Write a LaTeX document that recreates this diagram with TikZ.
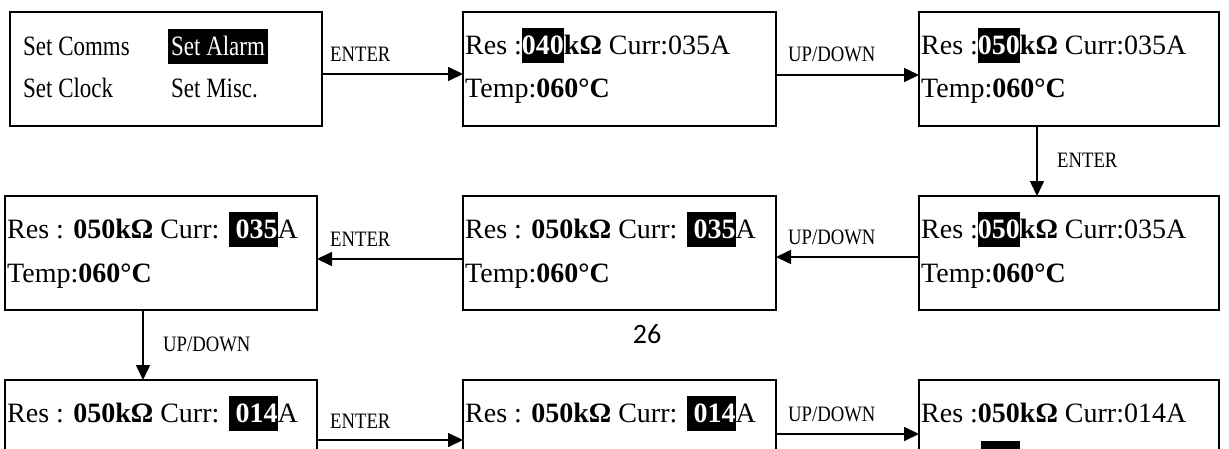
\documentclass[tikz,border=0pt]{standalone}
\usepackage{fontspec}
\setmainfont{Liberation Serif}
\newfontfamily\condfont[FakeStretch=0.82]{Liberation Serif}
\newfontfamily\lblfont[FakeStretch=0.85]{Liberation Serif}
\newfontfamily\pagefont{Carlito}
\usetikzlibrary{arrows.meta}
\newcommand\hl[1]{{\setlength{\fboxsep}{0pt}\colorbox{black}{\rule[-9pt]{0pt}{35pt}\textcolor{white}{#1}}}}
\newcommand\B[1]{\textbf{#1}}
\begin{document}
\begin{tikzpicture}[x=1pt,y=-1pt,
  screen/.style={draw, line width=1.6pt, anchor=north west, inner sep=0pt, outer sep=0pt,
    minimum width=#1, minimum height=114pt},
  txt/.style={anchor=base west, inner sep=0pt, font=\fontsize{28}{30}\selectfont},
  menu/.style={anchor=base west, inner sep=0pt, font=\condfont\fontsize{28}{30}\selectfont},
  lbl/.style={anchor=base west, inner sep=0pt, font=\lblfont\fontsize{22}{24}\selectfont},
  arr/.style={line width=1.6pt, -{Triangle[length=15pt,width=14pt]}}]
\useasboundingbox (0,0) rectangle (1229,448);
\clip (0,0) rectangle (1229,448);
\fill[white] (0,0) rectangle (1229,448);
% screens
\node[screen=312pt] (b1) at (10,12) {};
\node[screen=313pt] (b2) at (463,12) {};
\node[screen=300pt] (b3) at (919,12) {};
\node[screen=312pt] (b4) at (5,196) {};
\node[screen=313pt] (b5) at (463,196) {};
\node[screen=300pt] (b6) at (919,196) {};
\node[screen=312pt] (b7) at (5,380) {};
\node[screen=313pt] (b8) at (463,380) {};
\node[screen=300pt] (b9) at (919,380) {};
% texts of screen 1
\node[menu] (t1a) at (23,55) {Set Comms};
\node[menu] (t1b) at (168,55) {\hl{\hspace{3pt}Set Alarm\hspace{3pt}}};
\node[menu] (t1c) at (23,97) {Set Clock};
\node[menu] (t1d) at (171,97) {Set Misc.};
% screen 2, 3
\node[txt] (t2a) at (465,54) {Res :\hl{\B{040}}\B{kΩ} Curr:035A};
\node[txt] (t2b) at (465,97) {Temp:\B{060°C}};
\node[txt] (t3a) at (921,54) {Res :\hl{\B{050}}\B{kΩ} Curr:035A};
\node[txt] (t3b) at (921,97) {Temp:\B{060°C}};
% middle row
\node[txt] (t4a) at (7,238) {Res : \B{050kΩ} Curr: \hl{\ \B{035}}A};
\node[txt] (t4b) at (7,282) {Temp:\B{060°C}};
\node[txt] (t5a) at (465,238) {Res : \B{050kΩ} Curr: \hl{\ \B{035}}A};
\node[txt] (t5b) at (465,282) {Temp:\B{060°C}};
\node[txt] (t6a) at (921,238) {Res :\hl{\B{050}}\B{kΩ} Curr:035A};
\node[txt] (t6b) at (921,282) {Temp:\B{060°C}};
% bottom row
\node[txt] (t7a) at (7,422) {Res : \B{050kΩ} Curr: \hl{\ \B{014}}A};
\node[txt] (t8a) at (465,422) {Res : \B{050kΩ} Curr: \hl{\ \B{014}}A};
\node[txt] (t9a) at (921,422) {Res :\B{050kΩ} Curr:014A};
\fill[black] (981,441) rectangle (1020,476);
% page number
\node[anchor=base, inner sep=0pt, font=\pagefont\fontsize{28}{30}\selectfont] (pg) at (647,343) {26};
% connectors
\coordinate (y1) at (0,74);
\coordinate (y2) at (0,75);
\coordinate (x3) at (1037,0);
\coordinate (y4) at (0,257);
\coordinate (y5) at (0,259);
\coordinate (x6) at (143,0);
\coordinate (y7) at (0,440);
\coordinate (y8) at (0,434);
\draw[arr] (b1.east |- y1) -- (b2.west |- y1);
\draw[arr] (b2.east |- y2) -- (b3.west |- y2);
\draw[arr] (b3.south -| x3) -- (b6.north -| x3);
\draw[arr] (b6.west |- y4) -- (b5.east |- y4);
\draw[arr] (b5.west |- y5) -- (b4.east |- y5);
\draw[arr] (b4.south -| x6) -- (b7.north -| x6);
\draw[arr] (b7.east |- y7) -- (b8.west |- y7);
\draw[arr] (b8.east |- y8) -- (b9.west |- y8);
% labels
\node[lbl] (l1) at (330,61) {ENTER};
\node[lbl] (l2) at (788,61) {UP/DOWN};
\node[lbl] (l3) at (1057,167) {ENTER};
\node[lbl] (l4) at (788,244) {UP/DOWN};
\node[lbl] (l5) at (330,246) {ENTER};
\node[lbl] (l6) at (163,351) {UP/DOWN};
\node[lbl] (l7) at (330,428) {ENTER};
\node[lbl] (l8) at (788,421) {UP/DOWN};
\end{tikzpicture}
\end{document}
